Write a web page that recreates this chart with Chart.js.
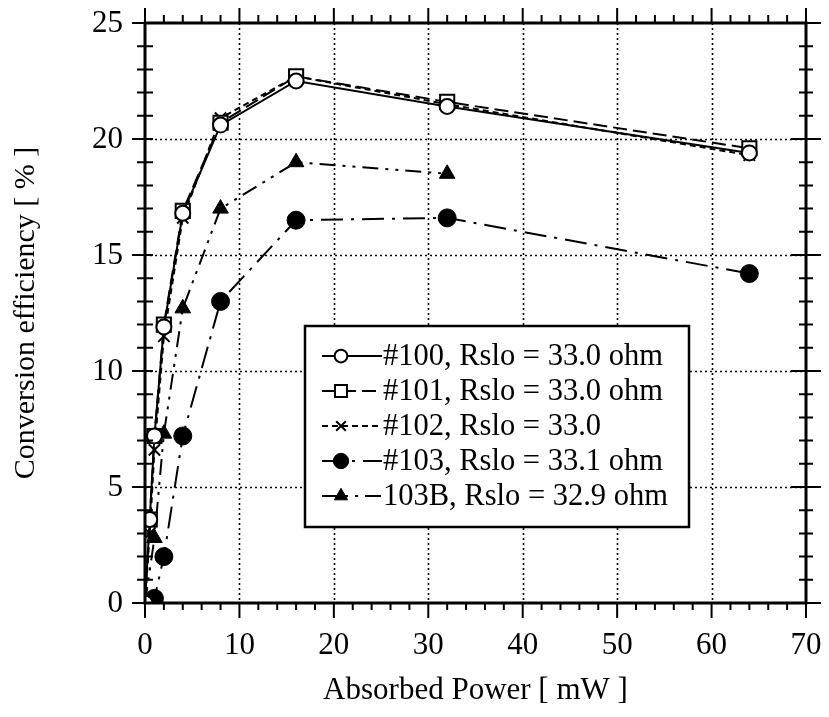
<!DOCTYPE html>
<html><head><meta charset="utf-8">
<script src="https://cdn.jsdelivr.net/npm/chart.js@4/dist/chart.umd.min.js"></script>
<style>html,body{margin:0;padding:0;background:#fff}</style>
</head><body>
<canvas id="c" width="829" height="717"></canvas>
<script>
// ---- data ----
const seriesLabels = ['#100, Rslo = 33.0 ohm', '#101, Rslo = 33.0 ohm', '#102, Rslo = 33.0', '#103, Rslo = 33.1 ohm', '103B, Rslo = 32.9 ohm'];
const power100 = [0, 0.5, 1, 2, 4, 8, 16, 32, 64];
const eff100   = [0, 3.6, 7.2, 11.9, 16.8, 20.6, 22.5, 21.4, 19.4];
const power101 = [0, 0.5, 1, 2, 4, 8, 16, 32, 64];
const eff101   = [0, 3.6, 7.2, 12.0, 16.9, 20.7, 22.7, 21.6, 19.6];
const power102 = [0, 0.5, 1, 2, 4, 8, 16, 32, 64];
const eff102   = [0, 3.0, 6.6, 11.5, 16.6, 20.9, 22.7, 21.5, 19.3];
const power103 = [0, 1, 2, 4, 8, 16, 32, 64];
const eff103   = [0, 0.2, 2.0, 7.2, 13.0, 16.5, 16.6, 14.2];
const power103B = [0, 1, 2, 4, 8, 16, 32];
const eff103B   = [0, 2.8, 7.3, 12.7, 17.0, 19.0, 18.5];
const xTickValues = [0, 10, 20, 30, 40, 50, 60, 70];
const yTickValues = [0, 5, 10, 15, 20, 25];
const xTitle = 'Absorbed Power [ mW ]';
const yTitle = 'Conversion efficiency [ % ]';

const FONT = '"Liberation Serif", "Times New Roman", serif';
const pts = (xs, ys) => xs.map((x, i) => ({x: x, y: ys[i]}));

const styles = [
  {dash: [],               pointStyle: 'circle',   radius: 7.5, fill: '#fff', pw: 2},
  {dash: [14, 6],          pointStyle: 'rect',     radius: 10,  fill: '#fff', pw: 2},
  {dash: [6, 4],           pointStyle: 'crossRot', radius: 8,   fill: '#000', pw: 2},
  {dash: [22, 8, 3, 8],    pointStyle: 'circle',   radius: 9,   fill: '#000', pw: 1},
  {dash: [16, 7, 3, 7, 3, 7], pointStyle: 'triangle', radius: 9, fill: '#000', pw: 1}
];
const seriesData = [pts(power100, eff100), pts(power101, eff101), pts(power102, eff102), pts(power103, eff103), pts(power103B, eff103B)];

const datasets = seriesData.map((d, i) => ({
  label: seriesLabels[i],
  data: d,
  borderColor: '#000',
  borderWidth: 2,
  borderDash: styles[i].dash,
  backgroundColor: styles[i].fill,
  pointStyle: styles[i].pointStyle,
  pointRadius: styles[i].radius,
  pointBackgroundColor: styles[i].fill,
  pointBorderColor: '#000',
  pointBorderWidth: styles[i].pw,
  tension: 0,
  fill: false
}));

const framePlugin = {
  id: 'frame',
  beforeDatasetsDraw(chart) {
    const {ctx, chartArea: a, scales: {x, y}} = chart;
    ctx.save();
    ctx.strokeStyle = '#000';
    ctx.lineWidth = 1.6;
    ctx.setLineDash([2, 3]);
    xTickValues.slice(1, -1).forEach(v => {
      const px = Math.round(x.getPixelForValue(v)) + 0.5;
      ctx.beginPath(); ctx.moveTo(px, a.top); ctx.lineTo(px, a.bottom); ctx.stroke();
    });
    yTickValues.slice(1, -1).forEach(v => {
      const py = Math.round(y.getPixelForValue(v)) + 0.5;
      ctx.beginPath(); ctx.moveTo(a.left, py); ctx.lineTo(a.right, py); ctx.stroke();
    });
    ctx.restore();
  },
  afterDatasetsDraw(chart) {
    const {ctx, chartArea: a, scales: {x, y}} = chart;
    ctx.save();
    ctx.strokeStyle = '#000';
    ctx.setLineDash([]);
    ctx.lineWidth = 3;
    ctx.strokeRect(a.left, a.top, a.right - a.left, a.bottom - a.top);
    ctx.lineWidth = 2;
    ctx.beginPath();
    for (let v = 0; v <= 25; v += 1) {
      const py = y.getPixelForValue(v);
      const major = v % 5 === 0;
      ctx.moveTo(a.left - (major ? 13 : 8), py); ctx.lineTo(a.left + 8, py);
      ctx.moveTo(a.right - (major ? 15 : 7), py); ctx.lineTo(a.right + (major ? 15 : 7), py);
    }
    for (let v = 0; v <= 70; v += 2) {
      const px = x.getPixelForValue(v);
      const major = v % 10 === 0;
      ctx.moveTo(px, a.bottom); ctx.lineTo(px, a.bottom + (major ? 15 : 7));
      ctx.moveTo(px, a.top); ctx.lineTo(px, a.top - (major ? 15 : 8));
    }
    ctx.stroke();
    // tick labels
    ctx.fillStyle = '#000';
    ctx.font = '31px ' + FONT;
    ctx.textAlign = 'center';
    ctx.textBaseline = 'middle';
    xTickValues.forEach(v => ctx.fillText(String(v), x.getPixelForValue(v), a.bottom + 43));
    ctx.textAlign = 'right';
    yTickValues.forEach(v => ctx.fillText(String(v), a.left - 22, y.getPixelForValue(v) + 1));
    ctx.restore();
  },
  afterDraw(chart) {
    const {ctx} = chart;
    ctx.save();
    const box = {l: 305, t: 326, r: 689, b: 527};
    ctx.fillStyle = '#fff';
    ctx.fillRect(box.l, box.t, box.r - box.l, box.b - box.t);
    ctx.strokeStyle = '#000';
    ctx.lineWidth = 2.5;
    ctx.strokeRect(box.l, box.t, box.r - box.l, box.b - box.t);
    chart.data.datasets.forEach((ds, i) => {
      const cy = 356 + i * 35;
      ctx.lineWidth = 2;
      ctx.setLineDash(ds.borderDash);
      ctx.beginPath(); ctx.moveTo(322, cy); ctx.lineTo(382, cy); ctx.stroke();
      ctx.setLineDash([]);
      ctx.fillStyle = ds.pointBackgroundColor;
      ctx.strokeStyle = '#000';
      ctx.lineWidth = ds.pointBorderWidth;
      Chart.helpers.drawPoint(ctx, {pointStyle: ds.pointStyle, radius: ds.pointRadius * 0.85, rotation: 0, borderWidth: ds.pointBorderWidth}, 341, cy);
      ctx.fillStyle = '#000';
      ctx.font = '30.5px ' + FONT;
      ctx.textBaseline = 'middle';
      ctx.textAlign = 'left';
      ctx.fillText(ds.label, 383, cy + 1);
    });
    ctx.restore();
  }
};

new Chart(document.getElementById('c'), {
  type: 'line',
  data: {datasets: datasets},
  options: {
    responsive: false,
    animation: false,
    devicePixelRatio: 1,
    layout: {padding: {left: 0, top: 23, right: 23, bottom: 0}},
    plugins: {legend: {display: false}, tooltip: {enabled: false}, title: {display: false}},
    scales: {
      x: {
        type: 'linear', min: 0, max: 70,
        afterFit: s => { s.height = 114; },
        grid: {display: false, drawTicks: false},
        border: {display: false},
        ticks: {display: false},
        title: {display: true, text: xTitle, color: '#000', font: {family: FONT, size: 31}, padding: {top: 0, bottom: 8}}
      },
      y: {
        type: 'linear', min: 0, max: 25,
        afterFit: s => { s.width = 145; },
        grid: {display: false, drawTicks: false},
        border: {display: false},
        ticks: {display: false},
        title: {display: true, text: yTitle, color: '#000', font: {family: FONT, size: 30}, padding: {top: 8, bottom: 0}}
      }
    }
  },
  plugins: [framePlugin]
});
</script>
</body></html>
